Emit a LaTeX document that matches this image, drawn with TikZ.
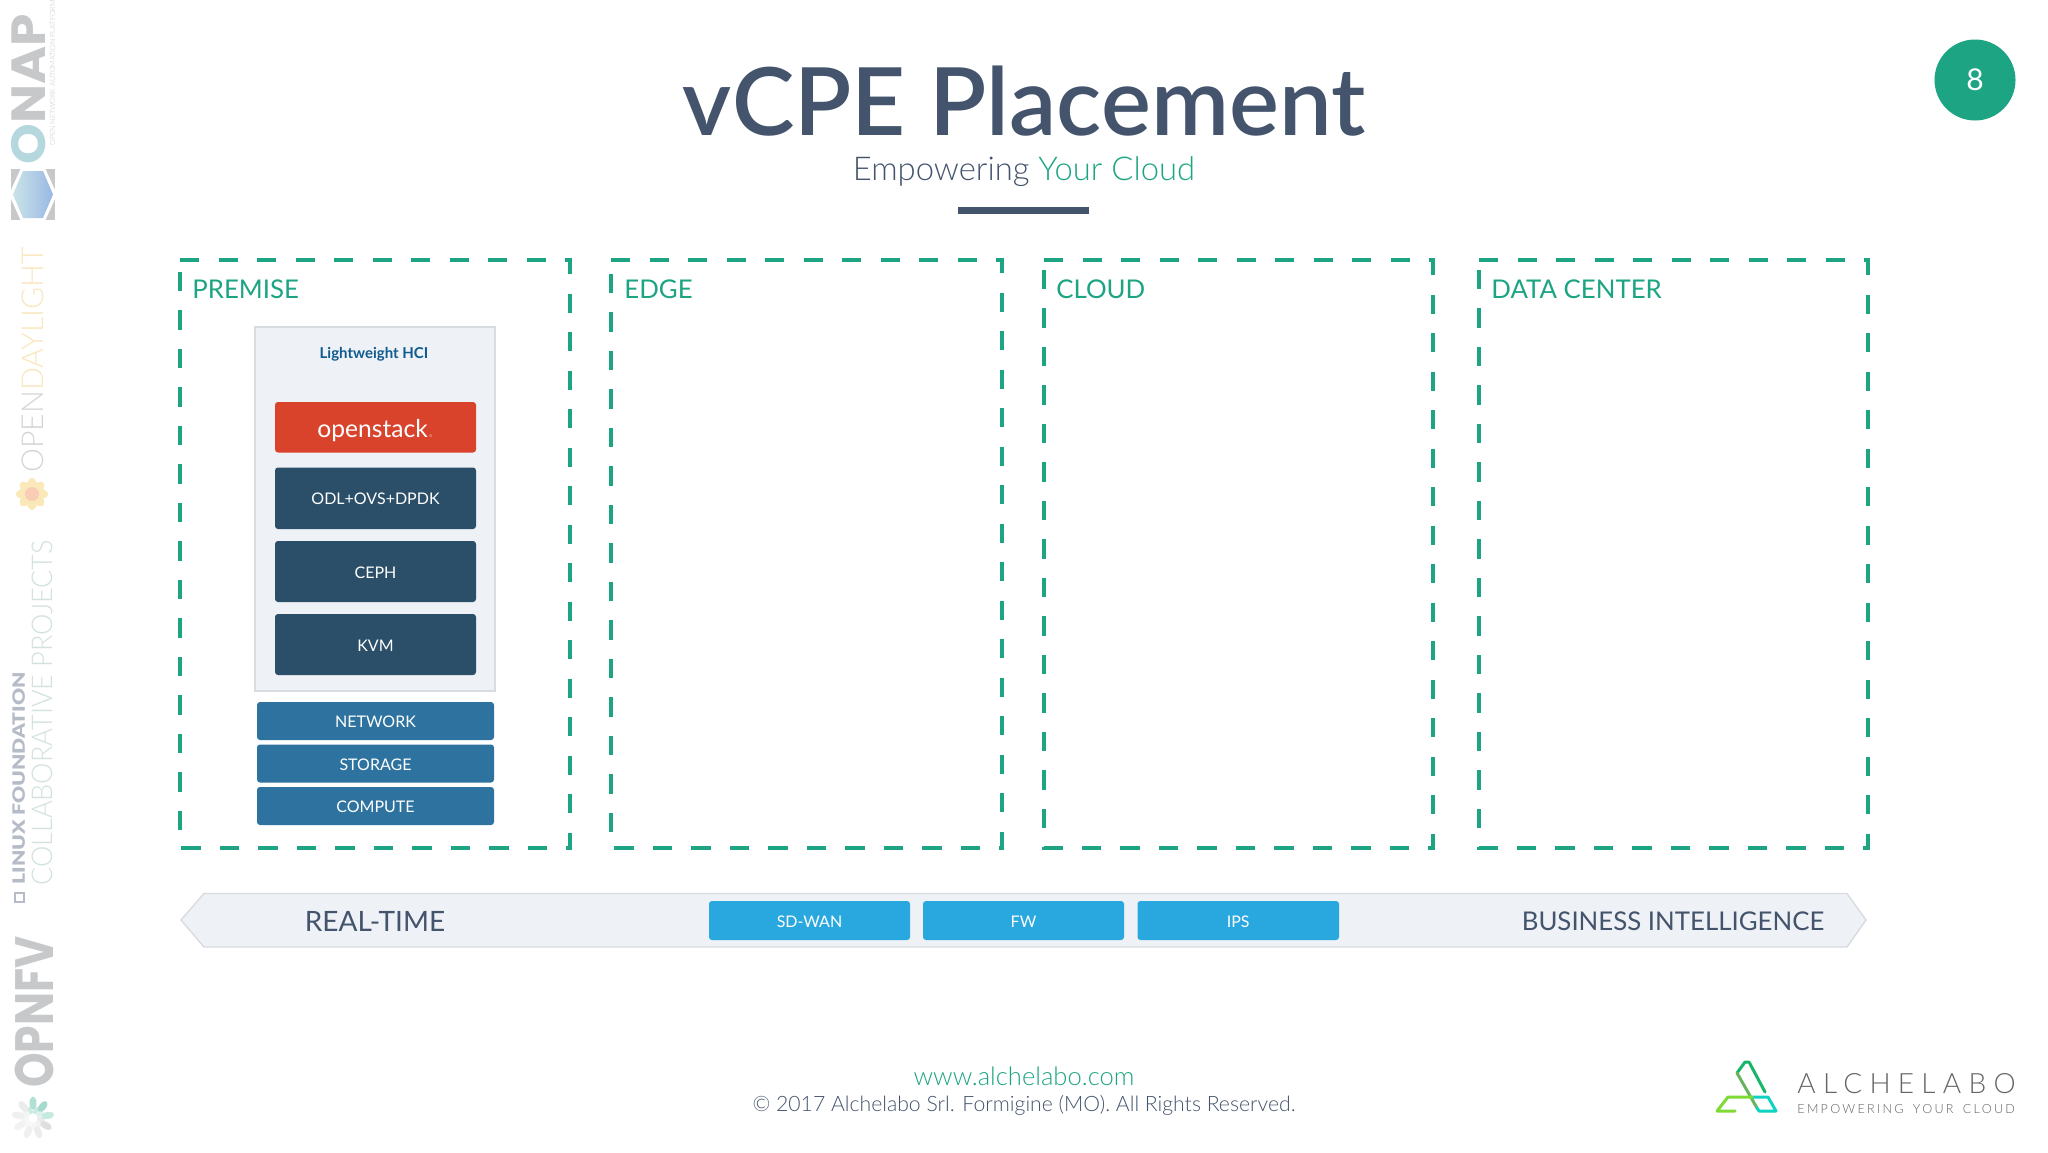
\documentclass[tikz,border=0pt]{standalone}
\usepackage{fontspec}
\setmainfont{Lato}
\newfontfamily\lt{Lato Light}
\newfontfamily\md{Lato Semibold}
\newfontfamily\blk{Lato Black}
\newfontfamily\pop{Poppins}[BoldFont=* Bold]
\usetikzlibrary{shapes.geometric}
\definecolor{ink}{HTML}{44546C}
\definecolor{teal}{HTML}{1DA583}
\definecolor{deep}{HTML}{2B4F68}
\definecolor{mid}{HTML}{2E739F}
\definecolor{sky}{HTML}{29A8E0}
\definecolor{redbox}{HTML}{D9432B}
\definecolor{pale}{HTML}{EEF1F5}
\definecolor{paleline}{HTML}{D8DCE1}
\definecolor{wgray}{HTML}{C6C8CA}
\definecolor{wteal}{HTML}{B4D8DE}
\definecolor{wyellow}{HTML}{F9E8C0}
\definecolor{wopen}{HTML}{D5D5DA}
\definecolor{wgreen}{HTML}{D3E2DC}
\definecolor{wlf}{HTML}{B5BBC7}
\definecolor{petal}{HTML}{FBE8B8}
\definecolor{heart}{HTML}{F9CDB5}
\definecolor{hci}{HTML}{0F5A8E}
\tikzset{x=0.5pt,y=-0.5pt,
  zone/.style={draw=teal,line width=1.55pt,dash pattern=on 9.6pt off 9.65pt},
  zonelabel/.style={text=teal,anchor=base west,inner sep=0pt,font=\fontsize{12.9}{16}\selectfont},
  btn/.style={rounded corners=1.5pt,text=white,inner sep=0pt,align=center},
  wm/.style={rotate=90,inner sep=0pt,anchor=base west},
  logoline/.style={line width=1.5pt,line join=round,line cap=round}}
\newcommand{\bx}[7]{% name style x1 y1 x2 y2 text
  \pgfmathsetmacro{\bw}{(#5-#3)*0.5}\pgfmathsetmacro{\bh}{(#6-#4)*0.5}
  \node[#2,minimum width=\bw pt,minimum height=\bh pt] (#1) at ({(#3+#5)/2},{(#4+#6)/2}) {\raisebox{-0.42em}[0pt][0pt]{#7}};}
\newcommand{\zonebox}[4]{\draw[zone] (#1,#2) -- (#3,#2) -- (#3,#4) -- (#1,#4) -- cycle;}
\begin{document}
\begin{tikzpicture}
\useasboundingbox (0,0) rectangle (2048,1152);
\fill[white] (0,0) rectangle (2048,1152);
% title
\node[text=ink,font=\md\fontsize{47}{50}\selectfont,anchor=base,inner sep=0pt] (title) at (1024,135) {vCPE Placement};
\node[anchor=base,inner sep=0pt,text=ink,font=\lt\fontsize{16.4}{20}\selectfont] (sub) at (1024,180) {Empowering \textcolor{teal}{Your Cloud}};
\fill[ink] (958,207) rectangle (1089,214);
\node[circle,fill=teal,text=white,minimum size=40.5pt,inner sep=0pt,font=\fontsize{15}{16}\selectfont] (page) at (1975,80) {8};
% zones
\zonebox{180}{260}{570}{848}
\zonebox{611}{260}{1002}{848}
\zonebox{1044}{260}{1433}{848}
\zonebox{1479}{260}{1868}{848}
\node[zonelabel] (lp) at (192,298.7) {PREMISE};
\node[zonelabel] (le) at (624,298.7) {EDGE};
\node[zonelabel] (lc) at (1056,298.7) {CLOUD};
\node[zonelabel] (ld) at (1491,298.7) {DATA CENTER};
% stack
\bx{hcib}{draw=paleline,line width=1pt,fill=pale,inner sep=0pt}{254.5}{327}{495}{691}{}
\node[text=hci,font=\bfseries\fontsize{7.5}{9}\selectfont,inner sep=0pt] (hcit) at (374,354) {Lightweight HCI};
\bx{os}{btn,fill=redbox,font=\fontsize{12.3}{14}\selectfont}{275}{402}{476}{452.5}{openstack\textcolor{white!25!redbox}{.}}
\bx{odl}{btn,fill=deep,font=\fontsize{8}{10}\selectfont}{275}{467.5}{476}{529}{ODL+OVS+DPDK}
\bx{ceph}{btn,fill=deep,font=\fontsize{8}{10}\selectfont}{275}{541}{476}{602}{CEPH}
\bx{kvm}{btn,fill=deep,font=\fontsize{8}{10}\selectfont}{275}{614}{476}{675}{KVM}
\bx{net}{btn,fill=mid,font=\fontsize{8}{10}\selectfont}{257}{702}{494}{740}{NETWORK}
\bx{sto}{btn,fill=mid,font=\fontsize{8}{10}\selectfont}{257}{744.5}{494}{782.5}{STORAGE}
\bx{com}{btn,fill=mid,font=\fontsize{8}{10}\selectfont}{257}{787}{494}{825}{COMPUTE}
% band
\draw[draw=paleline,fill=pale,line width=0.7pt] (204,893.5) -- (1847,893.5) -- (1866,920) -- (1847,947) -- (204,947) -- (181,920) -- cycle;
\node[text=ink,font=\fontsize{14}{16}\selectfont,inner sep=0pt] (rt) at (375,921.5) {REAL-TIME};
\node[text=ink,font=\fontsize{12.9}{16}\selectfont,inner sep=0pt] (bi) at (1673,921.5) {BUSINESS INTELLIGENCE};
\bx{sdwan}{btn,fill=sky,font=\fontsize{8}{10}\selectfont}{709}{901}{910}{940}{SD-WAN}
\bx{fw}{btn,fill=sky,font=\fontsize{8}{10}\selectfont}{923}{901}{1124}{940}{FW}
\bx{ips}{btn,fill=sky,font=\fontsize{8}{10}\selectfont}{1137.5}{901}{1339}{940}{IPS}
% footer
\node[text=teal,font=\lt\fontsize{12.8}{14}\selectfont,inner sep=0pt] (www) at (1024,1076) {www.alchelabo.com};
\node[text=ink,font=\lt\fontsize{10.6}{14}\selectfont,inner sep=0pt] (copy) at (1024,1105) {© 2017 Alchelabo Srl. Formigine (MO). All Rights Reserved.};
% logo
\draw[logoline,draw=teal!80!green] (1737,1073) -- (1745,1062) -- (1749,1062) -- (1765,1092);
\draw[logoline,draw=teal!60!lime!70!gray] (1737,1073) -- (1757,1108);
\draw[logoline,draw=teal!50!cyan] (1757,1108) -- (1759,1111) -- (1776,1111) -- (1768,1097) -- (1752,1097);
\draw[logoline,draw=lime!60!teal] (1752,1097) -- (1728,1097) -- (1717,1111) -- (1735,1111);
\node[anchor=base west,inner sep=0pt,text=black!60,font=\lt\fontsize{14}{20}\selectfont] (lg1) at (1797,1093) {\addfontfeature{LetterSpace=26}ALCHELABO};
\node[anchor=base west,inner sep=0pt,text=black!62,font=\lt\fontsize{6.3}{8}\selectfont] (lg2) at (1797,1113) {\addfontfeature{LetterSpace=18}EMPOWERING\hspace{1.8pt} YOUR\hspace{1.8pt} CLOUD};
% side watermarks
\node[wm,xscale=1.08,text=wgray,font=\pop\bfseries\fontsize{24}{24}\selectfont] (onap) at (45,165) {\textcolor{wteal}{O}NAP};
\node[wm,text=wgray,font=\lt\fontsize{3.6}{4}\selectfont] (onap2) at (55,146) {OPEN NETWORK AUTOMATION PLATFORM};
\fill[wgray] (11,169) rectangle (55,220);
\fill[white] (9,194.5) -- (21,168) -- (45,168) -- (57,194.5) -- (45,221) -- (21,221) -- cycle;
\shade[left color=wteal!70!white,right color=blue!15!wteal] (13,194.5) -- (23,171) -- (43,171) -- (53,194.5) -- (43,218) -- (23,218) -- cycle;
\node[wm,text=wopen,font=\lt\fontsize{15.1}{16}\selectfont] (odl2) at (43,473) {OPEN\textcolor{wyellow}{DAYLIGHT}};
\foreach \a in {0,45,...,315}{\fill[petal,rotate around={\a:(32,494)}] (32,486) ellipse (5 and 8);}
\fill[heart] (32,494) circle (7);
\node[wm,xscale=.945,text=wgreen,font=\lt\fontsize{14.3}{16}\selectfont] (collab) at (52,886) {COLLABORATIVE PROJECTS};
\node[wm,xscale=1.24,text=wlf,font=\blk\fontsize{8.5}{9}\selectfont] (lf) at (25,885) {LINUX FOUNDATION};
\draw[draw=wlf,line width=1pt] (15,893) rectangle (24,902);
\node[wm,xscale=.815,text=wgray,font=\pop\bfseries\fontsize{27}{27}\selectfont] (opnfv) at (54,1088) {OPNFV};
\foreach \a/\c in {0/teal!35,40/gray!15,80/gray!12,120/gray!10,160/gray!12,200/gray!15,240/gray!25,280/teal!25,320/teal!40}{
  \fill[\c,rotate around={\a:(33,1118)}] (33,1103) ellipse (3.5 and 6.5);
  \fill[\c,opacity=.6,rotate around={\a+20:(33,1118)}] (33,1110) ellipse (2.5 and 4);}
\end{tikzpicture}
\end{document}
